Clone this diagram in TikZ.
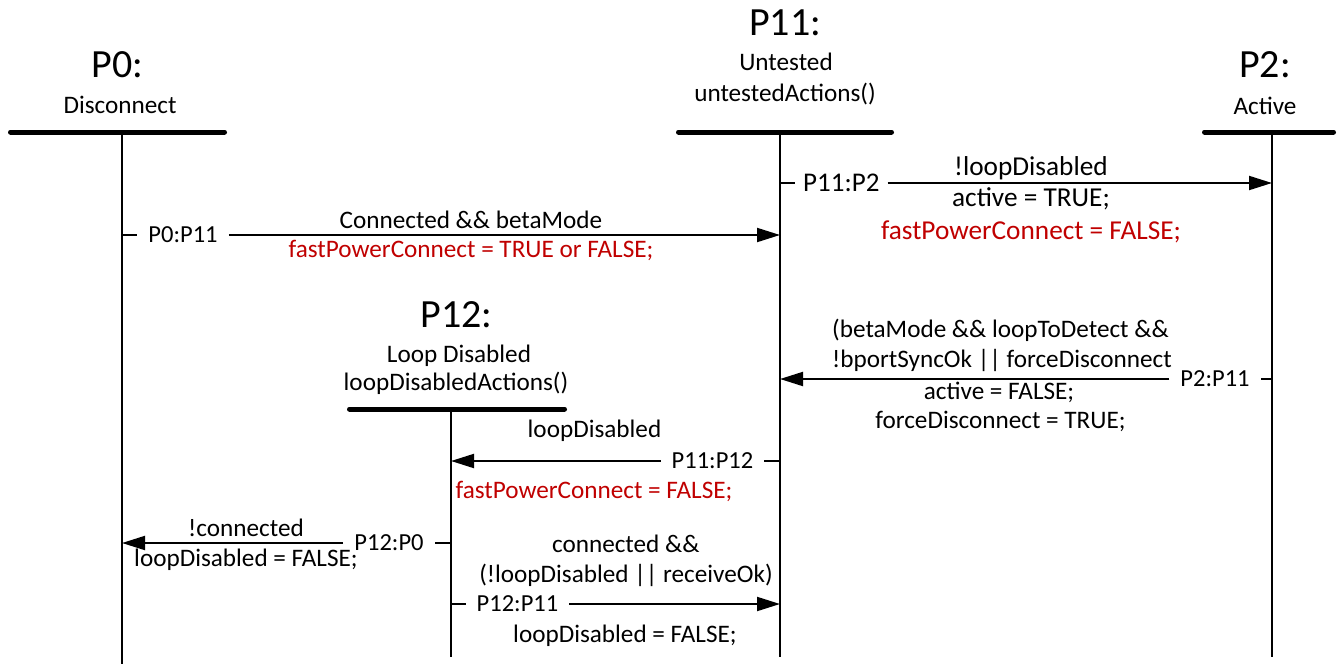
\documentclass[tikz,border=0pt]{standalone}
\usepackage{fontspec}
\setmainfont{Carlito}
\usetikzlibrary{arrows.meta}
\definecolor{actred}{RGB}{192,0,0}
\begin{document}
\begin{tikzpicture}[x=1pt,y=-1pt,
  txt/.style={inner sep=0pt, anchor=base, font=\fontsize{25.2}{30}\selectfont},
  bigtxt/.style={inner sep=0pt, anchor=base, font=\fontsize{27.3}{32}\selectfont},
  redtxt/.style={txt, text=actred},
  lefttxt/.style={txt, anchor=base west},
  big/.style={inner sep=0pt, anchor=base, font=\fontsize{40}{48}\selectfont},
  msg/.style={inner xsep=11pt, inner ysep=0pt, text height=15.5pt, text depth=0pt, anchor=center, font=\fontsize{24.5}{29}\selectfont},
  life/.style={line width=2pt},
  bar/.style={line width=5pt, line cap=round},
  arr/.style={line width=2pt, -{Triangle[length=23pt,width=14pt]}}
]
\useasboundingbox (0,0) rectangle (1338,664);

% ---------- states ----------
% P0
\node[big] (h0) at (117.5,77) {P0:};
\node[txt] (h0a) at (120,113) {Disconnect};
\coordinate (b0l) at (10.5,132); \coordinate (b0r) at (224.5,132);
\draw[bar] (b0l) -- (b0r);
\coordinate (p0top) at (122,132); \coordinate (p0bot) at (122,664);
\draw[life] (p0top) -- (p0bot);

% P11
\node[big] (h11) at (785,35) {P11:};
\node[txt] (h11a) at (786,70) {Untested};
\node[txt] (h11b) at (785,101) {untestedActions()};
\coordinate (b11l) at (678.5,132); \coordinate (b11r) at (891.5,132);
\draw[bar] (b11l) -- (b11r);
\coordinate (p11top) at (780,132); \coordinate (p11bot) at (780,657);
\draw[life] (p11top) -- (p11bot);

% P2
\node[big] (h2) at (1265,77) {P2:};
\node[txt] (h2a) at (1265,114) {Active};
\coordinate (b2l) at (1204.5,132); \coordinate (b2r) at (1333.5,132);
\draw[bar] (b2l) -- (b2r);
\coordinate (p2top) at (1272,132); \coordinate (p2bot) at (1272,657);
\draw[life] (p2top) -- (p2bot);

% P12
\node[big] (h12) at (456.7,327) {P12:};
\node[txt] (h12a) at (459,362) {Loop Disabled};
\node[txt] (h12b) at (456,390) {loopDisabledActions()};
\coordinate (b12l) at (349.5,409); \coordinate (b12r) at (564.5,409);
\draw[bar] (b12l) -- (b12r);
\coordinate (p12top) at (451,409); \coordinate (p12bot) at (451,657);
\draw[life] (p12top) -- (p12bot);

% ---------- transitions ----------
% P0 -> P11
\coordinate (m1s) at (122,235); \coordinate (m1e) at (780,235);
\node[msg] (m1) at (183,235) {P0:P11};
\draw[life] (m1s) -- (m1.west);
\draw[arr] (m1.east) -- (m1e);
\node[txt] (m1a) at (471,228) {Connected \&\& betaMode};
\node[redtxt] (m1b) at (471,257) {fastPowerConnect = TRUE or FALSE;};

% P11 -> P2
\coordinate (m2s) at (780,183); \coordinate (m2e) at (1272,183);
\node[msg, font=\fontsize{27}{32}\selectfont, text height=17pt, inner xsep=8pt] (m2) at (841.3,183) {P11:P2};
\draw[life] (m2s) -- (m2.west);
\draw[arr] (m2.east) -- (m2e);
\node[bigtxt] (m2a) at (1031,175) {!loopDisabled};
\node[bigtxt] (m2b) at (1031,206) {active = TRUE;};
\node[bigtxt, text=actred] (m2c) at (1031,239) {fastPowerConnect = FALSE;};

% P2 -> P11
\coordinate (m3s) at (1272,379); \coordinate (m3e) at (780,379);
\node[msg] (m3) at (1215,379) {P2:P11};
\draw[life] (m3s) -- (m3.east);
\draw[arr] (m3.west) -- (m3e);
\node[lefttxt] (m3a) at (832,337) {(betaMode \&\& loopToDetect \&\&};
\node[lefttxt] (m3b) at (832,367) {!bportSyncOk || forceDisconnect};
\node[txt] (m3c) at (999,399) {active = FALSE;};
\node[txt] (m3d) at (1000.5,428) {forceDisconnect = TRUE;};

% P11 -> P12
\coordinate (m4s) at (780,461); \coordinate (m4e) at (451,461);
\node[msg] (m4) at (712.5,461) {P11:P12};
\draw[life] (m4s) -- (m4.east);
\draw[arr] (m4.west) -- (m4e);
\node[txt] (m4a) at (594.5,437) {loopDisabled};
\node[redtxt] (m4b) at (594,498) {fastPowerConnect = FALSE;};

% P12 -> P0
\coordinate (m5s) at (451,543); \coordinate (m5e) at (122,543);
\node[msg] (m5) at (389,543) {P12:P0};
\draw[life] (m5s) -- (m5.east);
\draw[arr] (m5.west) -- (m5e);
\node[txt] (m5a) at (246,536) {!connected};
\node[txt] (m5b) at (246,566) {loopDisabled = FALSE;};

% P12 -> P11
\coordinate (m6s) at (451,604); \coordinate (m6e) at (780,604);
\node[msg] (m6) at (517.5,604) {P12:P11};
\draw[life] (m6s) -- (m6.west);
\draw[arr] (m6.east) -- (m6e);
\node[txt] (m6a) at (625.8,552) {connected \&\&};
\node[txt] (m6b) at (626,582) {(!loopDisabled || receiveOk)};
\node[txt] (m6c) at (625,642) {loopDisabled = FALSE;};
\end{tikzpicture}
\end{document}
